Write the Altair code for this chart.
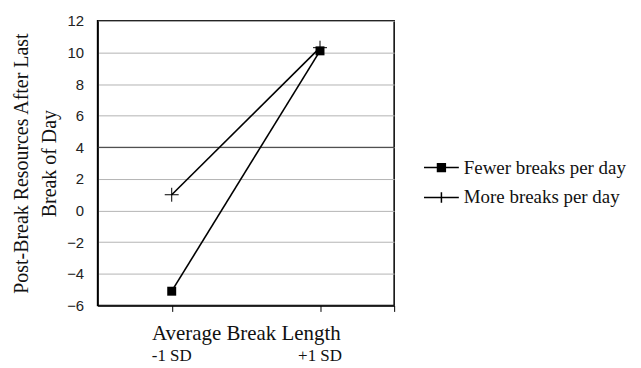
import altair as alt
import pandas as pd

categories = ["-1 SD", "+1 SD"]
cat_pos = [1, 2]
series = ["Fewer breaks per day", "More breaks per day"]
fewer = [-5.1, 10.1]
more = [1.0, 10.3]
y_ticks = [-6, -4, -2, 0, 2, 4, 6, 8, 10, 12]
dark_grid = [4]

rows = []
for s, vals in zip(series, [fewer, more]):
    for c, p, v in zip(categories, cat_pos, vals):
        rows.append({"series": s, "cat": c, "pos": p, "value": v})
df = pd.DataFrame(rows)
lab = pd.DataFrame({"cat": categories, "pos": cat_pos})
dg = pd.DataFrame({"value": dark_grid})

W, H = 298, 286
SERIF = "Liberation Serif"

xs = alt.Scale(domain=[0.5, 2.5], nice=False, zero=False)
ys = alt.Scale(domain=[-6, 12], nice=False, zero=False)

x_axis = alt.Axis(values=[1, 2, 2.5], labels=False, grid=False, tickSize=6,
                  tickColor="black", domainColor="black", domainWidth=1.5,
                  title="Average Break Length", titleFont=SERIF, titleFontSize=21,
                  titleFontWeight="normal", titleColor="#111", titlePadding=11)
y_axis = alt.Axis(values=y_ticks, tickCount=10, ticks=False, labelPadding=14,
                  labelOverlap=False, labelFlush=False,
                  labelFont="Liberation Sans", labelFontSize=15, labelColor="#222",
                  grid=True, gridColor="#b3b3b3", gridWidth=1,
                  domainColor="black", domainWidth=1.5,
                  title=["Post-Break Resources After Last", "Break of Day"],
                  titleFont=SERIF, titleFontSize=20, titleFontWeight="normal",
                  titleColor="#111", titleLineHeight=28, titlePadding=7)

x = alt.X("pos:Q", scale=xs, axis=x_axis)
y = alt.Y("value:Q", scale=ys, axis=y_axis)

base = alt.Chart(df)

grid4 = alt.Chart(dg).mark_rule(color="#333", strokeWidth=1).encode(y=y)

lines = base.mark_line(color="black", strokeWidth=1.6).encode(
    x=x, y=y, detail="series:N")

sq = base.transform_filter(alt.datum.series == series[0]).mark_square(
    size=81, color="black", opacity=1).encode(x=x, y=y)

plus = base.transform_filter(alt.datum.series == series[1]).mark_point(
    shape="M-1,0H1M0,-1V1", size=196, filled=False, color="black",
    strokeWidth=1, opacity=1).encode(x=x, y=y)

# legend glyphs drawn with strokes only (square hatched densely so it reads as filled)
sq_path = "M-2,0H2M-0.45,-0.45H0.45V0.45H-0.45Z" + "".join(
    f"M-0.45,{v:.2f}H0.45" for v in [-0.3, -0.15, 0.15, 0.3])
plus_path = "M-2,0H2M0,-0.6V0.6"

legend_layer = base.mark_point(filled=False, color="black", opacity=0, size=306,
                               strokeWidth=1.5).encode(
    x=x, y=y,
    shape=alt.Shape("series:N", scale=alt.Scale(domain=series, range=[sq_path, plus_path]),
        legend=alt.Legend(title=None, orient="none", legendX=336, legendY=138,
                          symbolSize=306, symbolOpacity=1,
                          symbolStrokeColor="black", symbolStrokeWidth=1.5,
                          labelFont=SERIF, labelFontSize=19, labelColor="#111",
                          labelLimit=400, labelOffset=13, rowPadding=10, padding=0)))

xlabels = alt.Chart(lab).mark_text(font=SERIF, fontSize=17, color="#111",
                                   baseline="middle").encode(
    x=alt.X("pos:Q", scale=xs, axis=x_axis), y=alt.value(H + 51), text="cat:N")

chart = alt.layer(grid4, lines, sq, plus, legend_layer, xlabels).properties(
    width=W, height=H,
    autosize=alt.AutoSizeParams(type="none"),
    padding={"left": 90, "top": 12, "right": 240, "bottom": 62},
).configure_view(stroke="black", strokeWidth=1.5)

chart.save("out.html", embed_options={"renderer": "svg", "actions": False})
